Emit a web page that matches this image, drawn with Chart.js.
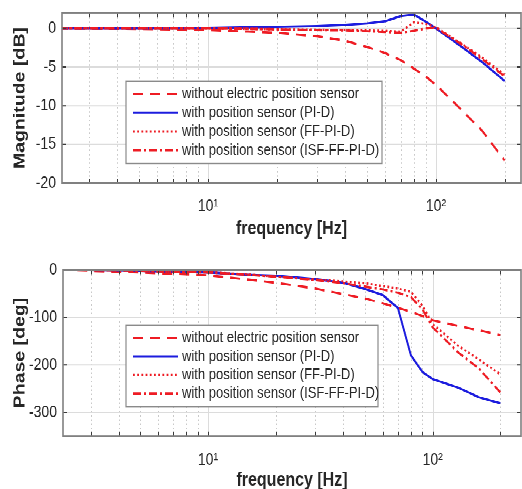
<!DOCTYPE html>
<html><head><meta charset="utf-8">
<script src="https://cdn.jsdelivr.net/npm/chart.js@4.4.1/dist/chart.umd.min.js"></script>
<style>
html,body{margin:0;padding:0;background:#fff;overflow:hidden;width:522px;height:489px}
#wrap{position:absolute;left:0;top:0;width:522px;transform:scaleY(1.22);transform-origin:0 0}
.box{width:522px;position:relative}
canvas{display:block}
</style></head><body>
<div id="wrap">
<div class="box" style="height:200px"><canvas id="mag" width="522" height="200"></canvas></div>
<div class="box" style="height:206px"><canvas id="ph" width="522" height="206"></canvas></div>
</div>
<script>
// ---- data ----
const freqHz = [2.2, 5, 10, 15, 20, 30, 40, 50, 60, 70, 80, 90, 100, 130, 160, 200];
const seriesLabels = ['without electric position sensor','with position sensor (PI-D)','with position sensor (FF-PI-D)','with position sensor (ISF-FF-PI-D)'];
const magWithout = [0, -0.05, -0.2, -0.4, -0.55, -1.0, -1.6, -2.4, -3.2, -4.1, -5.2, -6.2, -7.3, -10.6, -13.3, -17.1];
const magPID     = [0, 0, 0.05, 0.15, 0.2, 0.3, 0.45, 0.65, 0.95, 1.6, 1.8, 0.9, 0, -2.4, -4.4, -6.8];
const magFF      = [0, 0, 0, -0.05, -0.1, -0.15, -0.2, -0.25, -0.3, -0.4, 0.8, 0.6, 0.15, -2.0, -3.8, -6.0];
const magISF     = [0, 0, 0, -0.05, -0.1, -0.2, -0.25, -0.35, -0.45, -0.55, -0.3, 0.0, 0.1, -2.1, -4.0, -6.2];
const phWithout  = [0, -5, -11, -20, -27, -39, -51, -60, -70, -80, -88, -97, -106, -118, -127, -137];
const phPID      = [0, -2, -5, -10, -12, -19, -27, -40, -53, -80, -180, -215, -230, -248, -268, -281];
const phFF       = [0, -2, -5, -9, -14, -20, -24, -28, -34, -39, -46, -75, -114, -160, -188, -220];
const phISF      = [0, -2, -5, -10, -14, -21, -28, -35, -41, -48, -57, -83, -121, -174, -207, -258];
const xMajorTicks = [10, 100];
const xMinorTicks = [3, 4, 5, 6, 7, 8, 9, 20, 30, 40, 50, 60, 70, 80, 90, 200];
const xTickLabels = {10: '10\u00B9', 100: '10\u00B2'};
const magTicks = [-20, -15, -10, -5, 0];
const phTicks = [-300, -200, -100, 0];

const RED = 'rgb(238,28,36)', BLUE = 'rgb(28,28,222)';
const FONT = '"Liberation Sans", Arial, Helvetica, sans-serif';
const TXT = '#262626';

const styles = [
  {color: RED, dash: [10, 7]},
  {color: BLUE, dash: []},
  {color: RED, dash: [1.8, 2.4]},
  {color: RED, dash: [8, 3, 2, 3]}
];

function makeDatasets(arrs) {
  return arrs.map((vals, i) => ({
    label: seriesLabels[i],
    data: freqHz.map((f, k) => ({x: f, y: vals[k]})),
    borderColor: styles[i].color,
    borderDash: styles[i].dash,
    borderWidth: 1.9,
    pointRadius: 0,
    tension: 0,
    fill: false,
    order: 3 - i
  }));
}

const matlabAxes = {
  id: 'matlabAxes',
  beforeDatasetsDraw(chart) {
    const {ctx, chartArea: a, scales: {x, y}} = chart;
    ctx.save();
    ctx.lineWidth = 1;
    ctx.strokeStyle = '#c9c9c9';
    ctx.setLineDash([1.2, 2.3]);
    xMinorTicks.forEach(v => {
      const px = Math.round(x.getPixelForValue(v)) + 0.5;
      ctx.beginPath(); ctx.moveTo(px, a.top); ctx.lineTo(px, a.bottom); ctx.stroke();
    });
    ctx.setLineDash([]);
    ctx.strokeStyle = '#dcdcdc';
    xMajorTicks.forEach(v => {
      const px = Math.round(x.getPixelForValue(v)) + 0.5;
      ctx.beginPath(); ctx.moveTo(px, a.top); ctx.lineTo(px, a.bottom); ctx.stroke();
    });
    y.ticks.forEach(t => {
      const py = y.getPixelForValue(t.value);
      ctx.beginPath(); ctx.moveTo(a.left, py); ctx.lineTo(a.right, py); ctx.stroke();
    });
    ctx.restore();
  },
  afterDatasetsDraw(chart) {
    const {ctx, chartArea: a, scales: {x, y}} = chart;
    ctx.save();
    ctx.strokeStyle = '#3a3a3a';
    ctx.lineWidth = 1;
    xMajorTicks.concat(xMinorTicks).forEach(v => {
      const px = Math.round(x.getPixelForValue(v)) + 0.5;
      ctx.beginPath();
      ctx.moveTo(px, a.bottom); ctx.lineTo(px, a.bottom - 3.5);
      ctx.moveTo(px, a.top); ctx.lineTo(px, a.top + 3.5);
      ctx.stroke();
    });
    y.ticks.forEach(t => {
      const py = y.getPixelForValue(t.value);
      ctx.beginPath();
      ctx.moveTo(a.left, py); ctx.lineTo(a.left + 4, py);
      ctx.moveTo(a.right, py); ctx.lineTo(a.right - 4, py);
      ctx.stroke();
    });
    ctx.strokeStyle = '#808080';
    ctx.lineWidth = 1.6;
    ctx.strokeRect(a.left, a.top, a.right - a.left, a.bottom - a.top);
    ctx.restore();
  },
  afterDraw(chart, args, o) {
    const ctx = chart.ctx;
    ctx.save();
    ctx.fillStyle = '#fff';
    ctx.fillRect(o.x, o.y, o.w, o.h);
    ctx.strokeStyle = '#8a8a8a';
    ctx.lineWidth = 1.2;
    ctx.strokeRect(o.x, o.y, o.w, o.h);
    ctx.font = '13px ' + FONT;
    ctx.textBaseline = 'middle';
    ctx.textAlign = 'left';
    chart.data.datasets.forEach((ds, i) => {
      const cy = o.y + o.first + i * o.step;
      ctx.strokeStyle = ds.borderColor;
      ctx.lineWidth = 2;
      ctx.setLineDash(ds.borderDash || []);
      ctx.beginPath(); ctx.moveTo(o.lx0, cy); ctx.lineTo(o.lx1, cy); ctx.stroke();
      ctx.setLineDash([]);
      ctx.fillStyle = TXT;
      ctx.fillText(ds.label, o.tx, cy);
    });
    ctx.restore();
  }
};

function makeChart(id, arrs, cfg) {
  return new Chart(document.getElementById(id), {
    type: 'line',
    data: {datasets: makeDatasets(arrs)},
    plugins: [matlabAxes],
    options: {
      responsive: false,
      animation: false,
      devicePixelRatio: 2,
      layout: {padding: {top: cfg.padTop, right: 1, left: 0, bottom: 0}},
      plugins: {
        legend: {display: false},
        tooltip: {enabled: false},
        matlabAxes: cfg.legend
      },
      scales: {
        x: {
          type: 'logarithmic',
          min: cfg.xmin, max: cfg.xmax,
          grid: {display: false, drawTicks: false},
          border: {display: false},
          afterBuildTicks: s => { s.ticks = xMajorTicks.map(v => ({value: v})); },
          afterFit: s => { s.height = cfg.xh; s.paddingLeft = 0; s.paddingRight = 0; },
          ticks: {
            autoSkip: false, maxRotation: 0, padding: cfg.xTickPad, color: TXT,
            font: {family: FONT, size: 14},
            callback: v => xTickLabels[v] || ''
          },
          title: {display: true, text: 'frequency [Hz]', color: TXT,
            font: {family: FONT, size: 16, weight: 'bold'}, padding: {top: 0, bottom: cfg.xTitlePad}}
        },
        y: {
          type: 'linear',
          min: cfg.ymin, max: cfg.ymax,
          grid: {display: false, drawTicks: false},
          border: {display: false},
          afterBuildTicks: s => { s.ticks = cfg.yticks.map(v => ({value: v})); },
          afterFit: s => { s.width = cfg.yw; s.paddingTop = 0; s.paddingBottom = 0; },
          ticks: {padding: 6, color: TXT, font: {family: FONT, size: 14}},
          title: {display: true, text: cfg.ytitle, color: TXT,
            font: {family: FONT, size: 16, weight: 'bold'}, padding: {top: 10.5, bottom: 0}}
        }
      }
    }
  });
}

makeChart('mag', [magWithout, magPID, magFF, magISF], {
  padTop: 10.66, xmin: 2.289, xmax: 235.9, xh: 50, xTickPad: 10.5, xTitlePad: 2.7,
  ymin: -20, ymax: 2, yticks: magTicks, yw: 62, ytitle: 'Magnitude [dB]',
  legend: {x: 126, y: 66.4, w: 256, h: 67.6, first: 10.6, step: 15.4, lx0: 133, lx1: 178, tx: 182}
});
makeChart('ph', [phWithout, phPID, phFF, phISF], {
  padTop: 21.3, xmin: 2.263, xmax: 247.2, xh: 48.6, xTickPad: 11.2, xTitlePad: 3,
  ymin: -350, ymax: 0, yticks: phTicks, yw: 63, ytitle: 'Phase [deg]',
  legend: {x: 126, y: 66.4, w: 252, h: 67.2, first: 10.6, step: 15.2, lx0: 133, lx1: 178, tx: 182}
});
</script>
</body></html>
